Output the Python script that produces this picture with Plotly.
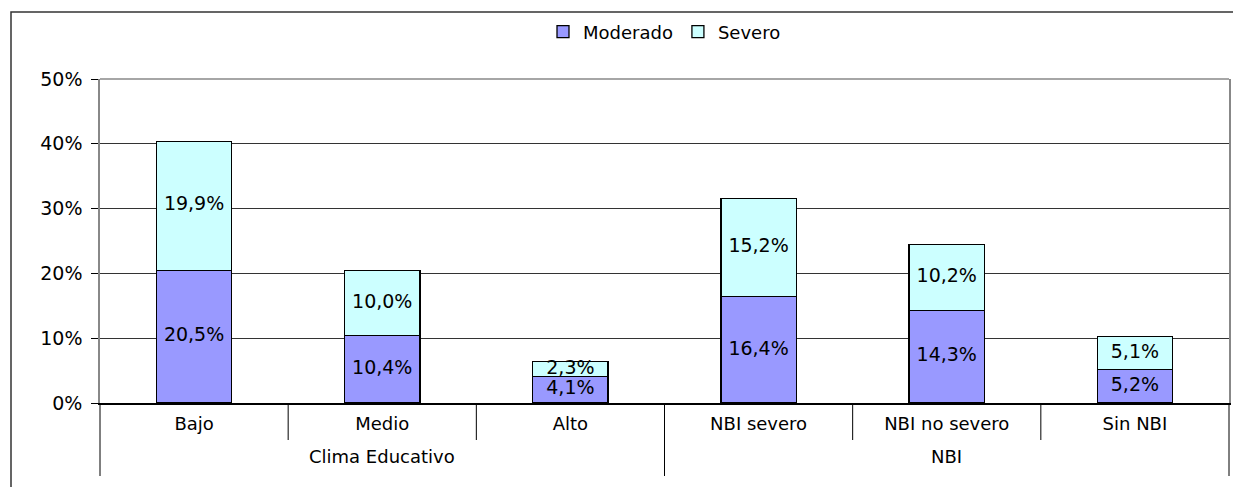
import plotly.graph_objects as go

groups = ["Clima Educativo", "NBI"]
group_sizes = [3, 3]
categories = ["Bajo", "Medio", "Alto", "NBI severo", "NBI no severo", "Sin NBI"]
moderado = [20.5, 10.4, 4.1, 16.4, 14.3, 5.2]
severo = [19.9, 10.0, 2.3, 15.2, 10.2, 5.1]

FONT = "DejaVu Sans"
W, H = 1233, 487
L, R, T, B = 100, 4, 79, 84

fig = go.Figure()
fig.add_trace(go.Bar(
    x=categories, y=moderado, name="Moderado",
    marker=dict(color="#9999FF", line=dict(color="#000000", width=1.3)),
    hoverinfo="skip",
))
fig.add_trace(go.Bar(
    x=categories, y=severo, name="Severo",
    marker=dict(color="#CCFFFF", line=dict(color="#000000", width=1.3)),
    hoverinfo="skip",
))

def fmt(v):
    return f"{v:.1f}".replace(".", ",") + "%"

fig.add_trace(go.Scatter(
    x=categories, y=[m / 2 for m in moderado], mode="text",
    text=[fmt(v) for v in moderado], textposition="middle center",
    textfont=dict(family=FONT, size=19, color="#000000"),
    showlegend=False, hoverinfo="skip",
))
fig.add_trace(go.Scatter(
    x=categories, y=[m + s / 2 for m, s in zip(moderado, severo)], mode="text",
    text=[fmt(v) for v in severo], textposition="middle center",
    textfont=dict(family=FONT, size=19, color="#000000"),
    showlegend=False, hoverinfo="skip",
))

pw = W - L - R
ph = H - T - B
def px_x(p):
    return (p - L) / pw
def px_y(p):
    return (H - B - p) / ph

n = len(categories)
shapes = []
edges = [0]
for s in group_sizes:
    edges.append(edges[-1] + s)
# category separators below the axis
for k in range(1, n):
    if k in edges:
        continue
    shapes.append(dict(type="line", xref="paper", yref="paper",
                       x0=k / n, x1=k / n, y0=0, y1=px_y(440),
                       line=dict(color="#000000", width=1)))
# group dividers
for k in edges:
    shapes.append(dict(type="line", xref="paper", yref="paper",
                       x0=k / n, x1=k / n, y0=0, y1=px_y(476),
                       line=dict(color="#000000", width=1)))
# top border of the plot area
shapes.append(dict(type="line", xref="paper", yref="paper", x0=0, x1=1, y0=1, y1=1,
                   line=dict(color="#888888", width=1.5)))
# outer chart frame
shapes.append(dict(type="rect", xref="paper", yref="paper",
                   x0=px_x(11), x1=px_x(1260), y0=px_y(12), y1=px_y(520),
                   line=dict(color="#333333", width=1.5), layer="below"))

annotations = []
for i, (g, s) in enumerate(zip(groups, group_sizes)):
    annotations.append(dict(
        text=g, xref="paper", yref="paper",
        x=(edges[i] + s / 2) / n, y=px_y(456),
        xanchor="center", yanchor="middle", showarrow=False,
        font=dict(family=FONT, size=18, color="#000000"),
    ))

fig.update_layout(
    width=W, height=H,
    margin=dict(l=L, r=R, t=T, b=B, pad=0, autoexpand=False),
    barmode="stack", bargap=0.6,
    paper_bgcolor="white", plot_bgcolor="white",
    font=dict(family=FONT, size=18, color="#000000"),
    legend=dict(
        orientation="h", x=0.5, xanchor="center", y=px_y(32), yanchor="middle",
        font=dict(family=FONT, size=18), itemwidth=30, traceorder="normal",
    ),
    xaxis=dict(
        type="category", categoryorder="array", categoryarray=categories,
        showgrid=False, ticks="", ticklabelstandoff=4,
        showline=True, linecolor="#000000", linewidth=1.5,
        tickfont=dict(family=FONT, size=18, color="#000000"),
        automargin=False,
    ),
    yaxis=dict(
        range=[0, 50], dtick=10, ticksuffix="%",
        showgrid=True, gridcolor="#333333", gridwidth=1,
        showline=True, linecolor="#888888", linewidth=1.5, mirror=True,
        ticks="outside", ticklen=7, tickcolor="#000000",
        ticklabelstandoff=5,
        tickfont=dict(family=FONT, size=19, color="#000000"),
        zeroline=False, automargin=False,
    ),
    shapes=shapes,
    annotations=annotations,
)

fig.write_html(
    "out.html",
    config={"displayModeBar": False},
    post_script="document.body.style.margin='0';document.body.style.overflow='hidden';",
)
